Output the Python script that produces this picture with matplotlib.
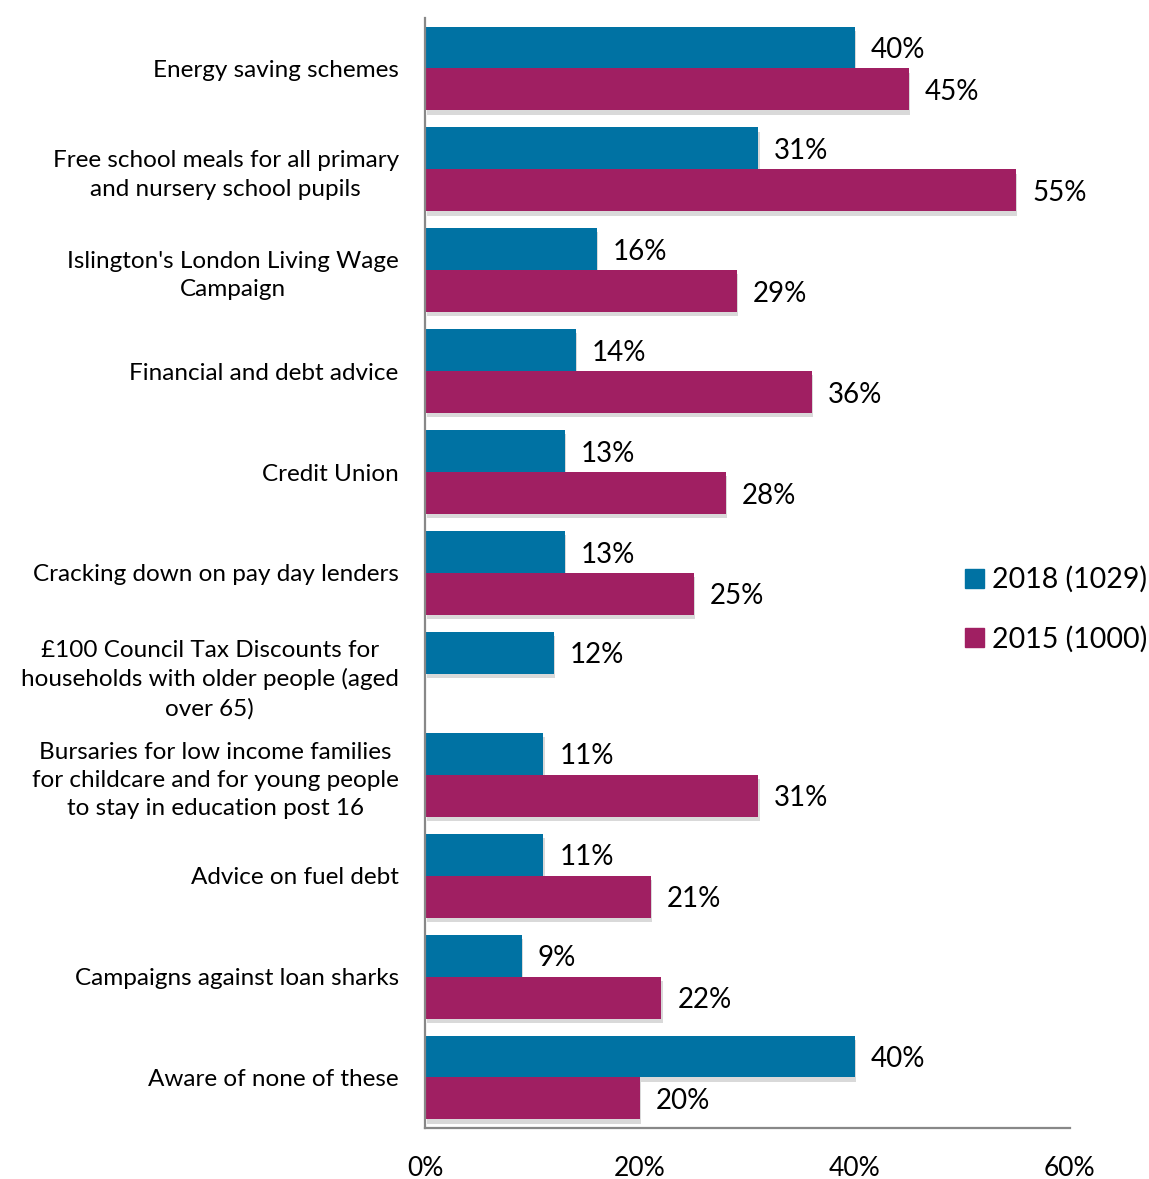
import matplotlib.pyplot as plt
import matplotlib.patheffects as pe
from matplotlib.patches import Patch

plt.rcParams['font.family'] = ['Lato', 'DejaVu Sans']

CATEGORIES = [
    "Energy saving schemes",
    "Free school meals for all primary\nand nursery school pupils",
    "Islington's London Living Wage\nCampaign",
    "Financial and debt advice",
    "Credit Union",
    "Cracking down on pay day lenders",
    "£100 Council Tax Discounts for\nhouseholds with older people (aged\nover 65)",
    "Bursaries for low income families\nfor childcare and for young people\nto stay in education post 16",
    "Advice on fuel debt",
    "Campaigns against loan sharks",
    "Aware of none of these",
]
VALUES_2018 = [40, 31, 16, 14, 13, 13, 12, 11, 11, 9, 40]
VALUES_2015 = [45, 55, 29, 36, 28, 25, None, 31, 21, 22, 20]
SERIES_NAMES = ["2018 (1029)", "2015 (1000)"]

TEAL = "#0072A3"
PLUM = "#A01F62"

fig = plt.figure(figsize=(11.49, 11.79), dpi=100)
ax = fig.add_axes([0.370, 0.0433, 0.561, 0.9414])

h = 0.416
shadow = [pe.SimplePatchShadow(offset=(1, -3), alpha=0.22, shadow_rgbFace="#555555"), pe.Normal()]

for i, (v18, v15) in enumerate(zip(VALUES_2018, VALUES_2015)):
    b = ax.barh(i - h / 2, v18, height=h, color=TEAL, edgecolor="none")
    b[0].set_path_effects(shadow)
    ax.text(v18 + 1.5, i - h / 2, "%d%%" % v18, va="center_baseline", ha="left", fontsize=20)
    if v15 is not None:
        b = ax.barh(i + h / 2, v15, height=h, color=PLUM, edgecolor="none")
        b[0].set_path_effects(shadow)
        ax.text(v15 + 1.5, i + h / 2, "%d%%" % v15, va="center_baseline", ha="left", fontsize=20)

ax.set_xlim(0, 60)
ax.set_ylim(10.5, -0.5)
ax.set_xticks([0, 20, 40, 60])
ax.set_xticklabels(["0%", "20%", "40%", "60%"], fontsize=19)
ax.tick_params(axis="x", length=0, pad=20)
ax.set_yticks(range(len(CATEGORIES)))
ax.set_yticklabels(CATEGORIES, fontsize=17.5, multialignment="center", linespacing=1.42)
ax.tick_params(axis="y", length=0, pad=19)

for s in ["top", "right"]:
    ax.spines[s].set_visible(False)
for s in ["left", "bottom"]:
    ax.spines[s].set_color("#888888")
    ax.spines[s].set_linewidth(1.6)

handles = [Patch(color=TEAL), Patch(color=PLUM)]
fig.legend(handles, SERIES_NAMES, loc="center left", bbox_to_anchor=(0.840, 0.483),
           frameon=False, fontsize=20.5, handlelength=0.65, handleheight=0.65,
           handletextpad=0.3, labelspacing=1.15, borderpad=0, borderaxespad=0)

fig.savefig("out.png", dpi=100)
